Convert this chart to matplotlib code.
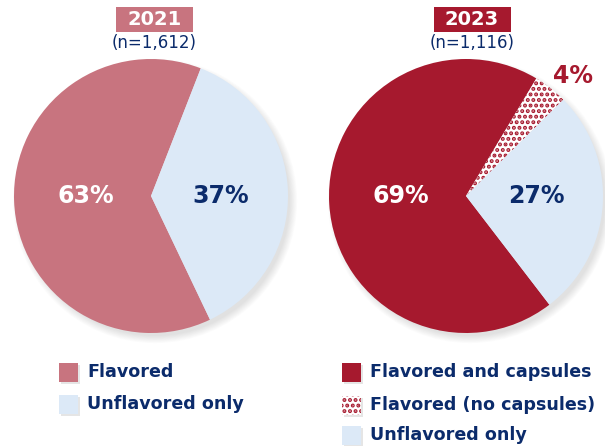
import matplotlib
matplotlib.use("Agg")
import matplotlib.pyplot as plt
from matplotlib.patches import Circle, Rectangle

years = ["2021", "2023"]
sizes = ["(n=1,612)", "(n=1,116)"]
labels_2021 = ["Flavored", "Unflavored only"]
values_2021 = [63, 37]
labels_2023 = ["Flavored and capsules", "Flavored (no capsules)", "Unflavored only"]
values_2023 = [69, 4, 27]

NAVY = "#0B2B6B"
PINK = "#C8747F"
RED = "#A6192E"
LIGHT = "#DCE9F7"

plt.rcParams['font.family'] = ['DejaVu Sans']
plt.rcParams['hatch.linewidth'] = 2.0

fig = plt.figure(figsize=(6.05, 4.46), dpi=100)
ax = fig.add_axes([0, 0, 1, 1])
ax.set_xlim(0, 605)
ax.set_ylim(0, 446)
ax.set_aspect('equal')
ax.axis('off')

H = 446
R = 137

def shadow(cx, cy, r):
    for i in range(10):
        ax.add_patch(Circle((cx + 4, cy - 5), r - 2 + i * 0.8, color='black',
                            alpha=0.012, lw=0, zorder=0))

# 2021 pie
c1 = (151, H - 196)
shadow(*c1, R)
w1, _ = ax.pie(values_2021, colors=[PINK, LIGHT], startangle=68.7,
               counterclock=True, center=c1, radius=R,
               wedgeprops=dict(linewidth=0))
# 2023 pie
c2 = (466, H - 196)
shadow(*c2, R)
w2, _ = ax.pie(values_2023, colors=["white", "white", LIGHT],
               startangle=-52.5, counterclock=False, center=c2, radius=R,
               wedgeprops=dict(linewidth=0))
w2[0].set_facecolor(RED)
w2[1].set_hatch('...')
w2[1].set_edgecolor(RED)
w2[1].set_linewidth(0)

ax.set_xlim(0, 605)
ax.set_ylim(0, 446)

bold = dict(fontweight='bold')
ax.text(86, H - 196, "63%", color='white', fontsize=17, ha='center', va='center', **bold)
ax.text(221, H - 196, "37%", color=NAVY, fontsize=17, ha='center', va='center', **bold)
ax.text(401, H - 196, "69%", color='white', fontsize=17, ha='center', va='center', **bold)
ax.text(536, H - 196, "27%", color=NAVY, fontsize=17, ha='center', va='center', **bold)
ax.text(573, H - 76, "4%", color=RED, fontsize=17, ha='center', va='center', **bold)

# title boxes
for cx, col, yr, n in [(154.5, PINK, years[0], sizes[0]), (472, RED, years[1], sizes[1])]:
    ax.add_patch(Rectangle((cx - 38.5, H - 32), 77, 25, color=col, lw=0))
    ax.text(cx, H - 19.5, yr, color='white', fontsize=14, ha='center', va='center', **bold)
    ax.text(cx, H - 43, n, color=NAVY, fontsize=12, ha='center', va='center')

# legends
def legend_item(x, y, face, label, hatch=None):
    ax.add_patch(Rectangle((x + 2, H - y - 12), 19, 19, color='black', alpha=0.10, lw=0))
    if hatch:
        ax.add_patch(Rectangle((x, H - y - 10), 19, 19, facecolor='white',
                               edgecolor=RED, hatch=hatch, lw=0))
    else:
        ax.add_patch(Rectangle((x, H - y - 10), 19, 19, color=face, lw=0))
    ax.text(x + 28, H - y, label, color=NAVY, fontsize=12.6, ha='left', va='center', **bold)

legend_item(59, 372, PINK, labels_2021[0])
legend_item(59, 404, LIGHT, labels_2021[1])
legend_item(342, 372, RED, labels_2023[0])
legend_item(342, 405, None, labels_2023[1], hatch='...')
legend_item(342, 435, LIGHT, labels_2023[2])

fig.savefig("out.png", dpi=100)
